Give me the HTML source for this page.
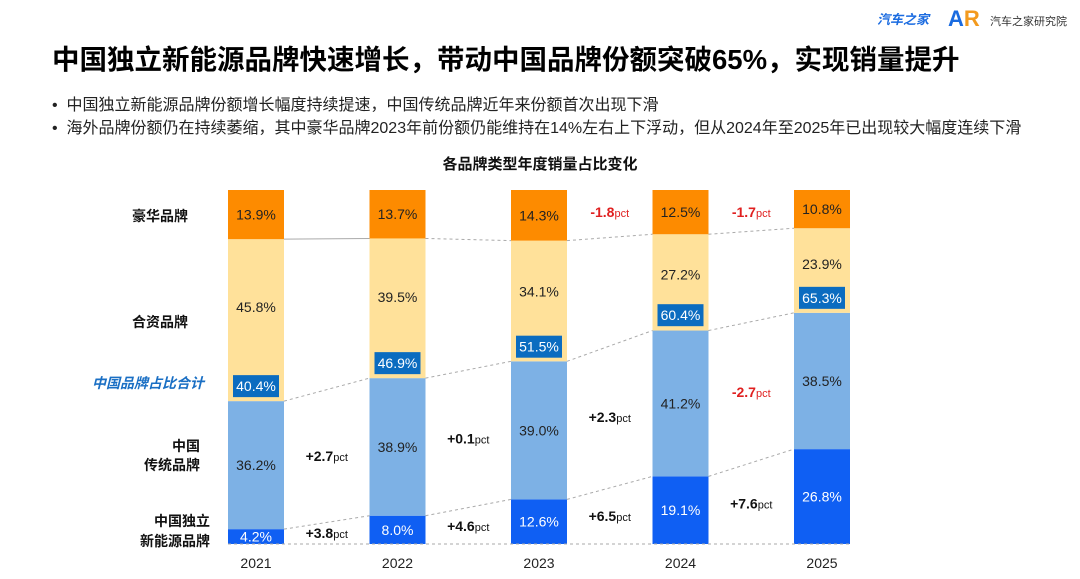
<!DOCTYPE html>
<html><head><meta charset="utf-8">
<style>
body{margin:0;background:#fff;width:1080px;height:579px;overflow:hidden;font-family:"Liberation Sans","Noto Sans CJK SC",sans-serif;}
.t{position:absolute;white-space:nowrap;}
</style></head><body>
<div style="position:relative;width:1080px;height:579px;">
<div class="t" style="left:877px;top:9px;font-size:13px;font-weight:bold;color:#1a6be0;font-style:italic;">汽车之家</div>
<div class="t" style="left:948px;top:6px;font-size:22px;font-weight:bold;color:#1a6be0;">A<span style="color:#f39a1e">R</span></div>
<div class="t" style="left:990px;top:13px;font-size:11px;color:#333;">汽车之家研究院</div>
<div class="t" style="left:52px;top:37px;font-size:27.5px;font-weight:bold;color:#000;">中国独立新能源品牌快速增长，带动中国品牌份额突破65%，实现销量提升</div>
<div class="t" style="left:52px;top:91px;font-size:16px;color:#222;">•&nbsp;&nbsp;中国独立新能源品牌份额增长幅度持续提速，中国传统品牌近年来份额首次出现下滑</div>
<div class="t" style="left:52px;top:114px;font-size:16px;color:#222;">•&nbsp;&nbsp;海外品牌份额仍在持续萎缩，其中豪华品牌2023年前份额仍能维持在14%左右上下浮动，但从2024年至2025年已出现较大幅度连续下滑</div>
<div class="t" style="left:0;width:1080px;text-align:center;top:153px;font-size:15px;font-weight:bold;color:#111;">各品牌类型年度销量占比变化</div>
<div class="t" style="left:132px;top:206px;font-size:14px;font-weight:bold;color:#111;">豪华品牌</div>
<div class="t" style="left:132px;top:312px;font-size:14px;font-weight:bold;color:#111;">合资品牌</div>
<div class="t" style="left:92px;top:373px;font-size:14px;font-weight:bold;font-style:italic;color:#1a6fc4;">中国品牌占比合计</div>
<div class="t" style="left:130px;top:437px;font-size:14px;font-weight:bold;color:#111;text-align:right;width:70px;line-height:19px;">中国<br>传统品牌</div>
<div class="t" style="left:110px;top:511px;font-size:14px;font-weight:bold;color:#111;text-align:right;width:100px;line-height:20px;">中国独立<br>新能源品牌</div>
<svg id="chart" width="1080" height="579" style="position:absolute;left:0;top:0"></svg>
</div>
<script>
const years=["2021","2022","2023","2024","2025"];
const nev=[4.2,8.0,12.6,19.1,26.8];
const trad=[36.2,38.9,39.0,41.2,38.5];
const jv=[45.8,39.5,34.1,27.2,23.9];
const lux=[13.9,13.7,14.3,12.5,10.8];
const chinaTotal=[40.4,46.9,51.5,60.4,65.3];
const nevDelta=["+3.8","+4.6","+6.5","+7.6"];
const tradDelta=["+2.7","+0.1","+2.3","-2.7"];
const luxDelta=["","","-1.8","-1.7"];
const svg=document.getElementById('chart');
const NS="http://www.w3.org/2000/svg";
const x0=228,step=141.5,bw=56,yTop=190,bot=544;
const xS=i=>x0+i*step;
function mk(tag,attrs){const e=document.createElementNS(NS,tag);for(const k in attrs)e.setAttribute(k,attrs[k]);svg.appendChild(e);return e;}
const series=[[nev,"#0f5ff3","#fff","nev"],[trad,"#7db1e5","#222","traditional"],[jv,"#ffe19a","#222","jv"],[lux,"#fd8b00","#222","luxury"]];
const bounds=[];
years.forEach((y,i)=>{
 const tot=nev[i]+trad[i]+jv[i]+lux[i];
 const yv=v=>bot-v/tot*(bot-yTop);
 let cum=0;const b=[];
 series.forEach(s=>{
  const v=s[0][i];const y1=yv(cum),y2=yv(cum+v);
  const r=mk('rect',{x:xS(i),y:y2,width:bw,height:y1-y2,fill:s[1]});
  
  
  let ty=(y1+y2)/2;
  if(s[3]=="jv") ty=y2+(y1-y2)*0.42;
  const t=mk('text',{x:xS(i)+bw/2,y:ty+5,'text-anchor':'middle','font-size':14,fill:s[2]});
  t.textContent=v.toFixed(1)+'%';
  
  
  cum+=v;b.push(y2);
 });
 bounds.push(b);
 const cy=yv(chinaTotal[i]);
 const br=mk('rect',{x:xS(i)+5,y:cy-26,width:bw-10,height:22,fill:'#0b6cc0'});
 
 
 const ct=mk('text',{x:xS(i)+bw/2,y:cy-10,'text-anchor':'middle','font-size':14,fill:'#fff'});
 ct.textContent=chinaTotal[i].toFixed(1)+'%';
 
 
 const yt=mk('text',{x:xS(i)+bw/2,y:568,'text-anchor':'middle','font-size':14,fill:'#222'});
 yt.textContent=y;
 
 
});
const bl=mk('line',{x1:x0,x2:xS(4)+bw,y1:bot,y2:bot,stroke:'#aaa','stroke-dasharray':'3,3'});


for(let i=0;i<4;i++){
 [0,1,2].forEach(k=>{
  const solid=(i==0&&k==2);
  const l=mk('line',{x1:xS(i)+bw,y1:bounds[i][k],x2:xS(i+1),y2:bounds[i+1][k],stroke:'#aaa','stroke-dasharray':solid?'none':'3,3'});
  
  
 });
 const cx=xS(i)+bw+(step-bw)/2;
 const lab=(txt,yy,col,nm)=>{if(!txt)return;
  const t=mk('text',{x:cx,y:yy,'text-anchor':'middle','font-size':14,'font-weight':'bold',fill:col});
  t.textContent=txt;
  const sp=document.createElementNS(NS,'tspan');
  sp.setAttribute('font-size','11');sp.setAttribute('font-weight','normal');
  sp.textContent='pct';t.appendChild(sp);
  
  };
 const nb=(bounds[i][0]+bounds[i+1][0])/2;
 const tb=((bounds[i][0]+bounds[i][1])/2+(bounds[i+1][0]+bounds[i+1][1])/2)/2;
 lab(nevDelta[i],(nb+bot)/2+5,'#111','nev-delta-'+years[i+1]);
 lab(tradDelta[i],tb+5,tradDelta[i][0]=='-'?'#e02020':'#111','traditional-delta-'+years[i+1]);
 lab(luxDelta[i],217,'#e02020','luxury-delta-'+years[i+1]);
}
</script>
</body></html>
